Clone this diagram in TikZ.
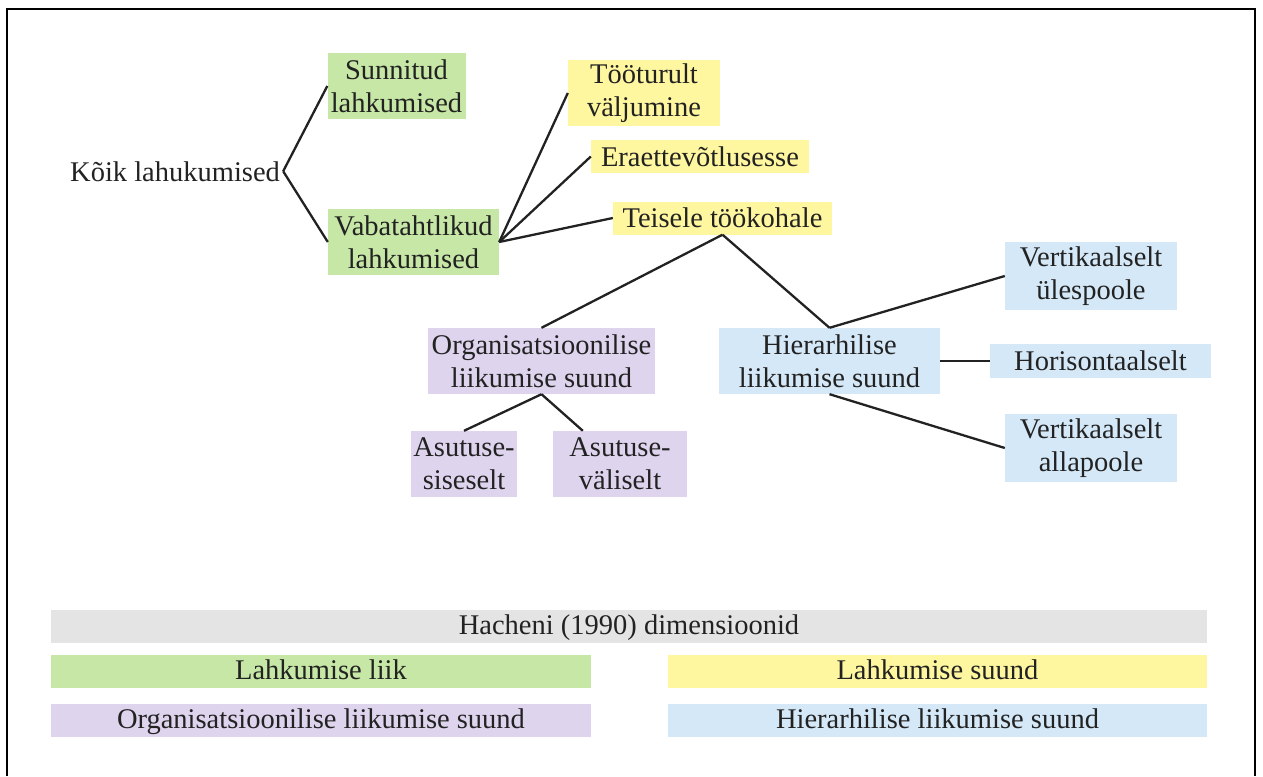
\documentclass[tikz,border=0pt]{standalone}
\usepackage{fontspec}
\setmainfont{Liberation Serif}
\definecolor{ink}{HTML}{222222}
\definecolor{cgreen}{HTML}{C6E7A5}
\definecolor{cyellow}{HTML}{FFF7A0}
\definecolor{cpurple}{HTML}{DED4EE}
\definecolor{cblue}{HTML}{D4E8F8}
\definecolor{cgray}{HTML}{E4E4E4}
\tikzset{
  lbl/.style={inner sep=0pt, align=center, text=ink,
    font=\fontsize{28.5}{33}\selectfont},
  box/.style={lbl, minimum width=#1},
  bar/.style={lbl, minimum height=33pt, text height=22pt, text depth=6pt},
  link/.style={draw=ink, line width=2.3pt},
}
\begin{document}
\begin{tikzpicture}[x=1pt, y=-1pt]
\useasboundingbox (0,0) rectangle (1263,776);
% outer frame
\draw[line width=2.5pt, black] (7,776) -- (7,9) -- (1255,9) -- (1255,776);

% root
\node[lbl, anchor=base west] (all) at (70,181) {Kõik lahukumised};

% type of leaving
\node[box=138pt, minimum height=66pt, fill=cgreen] (forced) at (396.5,86) {Sunnitud\\lahkumised};
\node[box=171pt, minimum height=66pt, fill=cgreen] (vol) at (413.5,242) {Vabatahtlikud\\lahkumised};

% direction of leaving
\node[box=152pt, minimum height=66pt, fill=cyellow] (out) at (644,93) {Tööturult\\väljumine};
\node[box=218pt, minimum height=33pt, fill=cyellow] (ent) at (700,156.5) {Eraettevõtlusesse};
\node[box=219pt, minimum height=33pt, fill=cyellow] (job) at (722.5,218) {Teisele töökohale};

% organisational direction
\node[box=227pt, minimum height=66pt, fill=cpurple] (org) at (541.5,361) {Organisatsioonilise\\liikumise suund};
\node[box=106pt, minimum height=66pt, fill=cpurple] (inner) at (464,464) {Asutuse-\\siseselt};
\node[box=134pt, minimum height=66pt, fill=cpurple] (outer) at (620,464) {Asutuse-\\väliselt};

% hierarchical direction
\node[box=221pt, minimum height=66pt, fill=cblue] (hier) at (829.5,361) {Hierarhilise\\liikumise suund};
\node[box=172pt, minimum height=68pt, fill=cblue] (up) at (1091,276) {Vertikaalselt\\ülespoole};
\node[box=221pt, minimum height=34pt, fill=cblue] (hor) at (1100.5,361) {Horisontaalselt};
\node[box=172pt, minimum height=68pt, fill=cblue] (down) at (1091,448) {Vertikaalselt\\allapoole};

% connectors
\draw[link] ([xshift=3pt]all.east) -- (forced.west);
\draw[link] ([xshift=3pt]all.east) -- (vol.west);
\draw[link] (vol.east) -- (out.west);
\draw[link] (vol.east) -- (ent.west);
\draw[link] (vol.east) -- (job.west);
\draw[link] (job.south) -- (org.north);
\draw[link] (job.south) -- (hier.north);
\draw[link] (org.south) -- (inner.north);
\draw[link] (org.south) -- ([xshift=30pt]outer.north west);
\draw[link] (hier.north) -- (up.west);
\draw[link] (hier.east) -- (hor.west);
\draw[link] (hier.south) -- (down.west);

% legend
\node[bar, minimum width=1156pt, fill=cgray] (lgall) at (629,626.5) {Hacheni (1990) dimensioonid};
\node[bar, minimum width=540pt, fill=cgreen] (lgtype) at (321,671) {Lahkumise liik};
\node[bar, minimum width=539pt, fill=cyellow] (lgdir) at (937.5,671) {Lahkumise suund};
\node[bar, minimum width=540pt, fill=cpurple] (lgorg) at (321,720) {Organisatsioonilise liikumise suund};
\node[bar, minimum width=539pt, fill=cblue] (lghier) at (937.5,720) {Hierarhilise liikumise suund};
\end{tikzpicture}
\end{document}
